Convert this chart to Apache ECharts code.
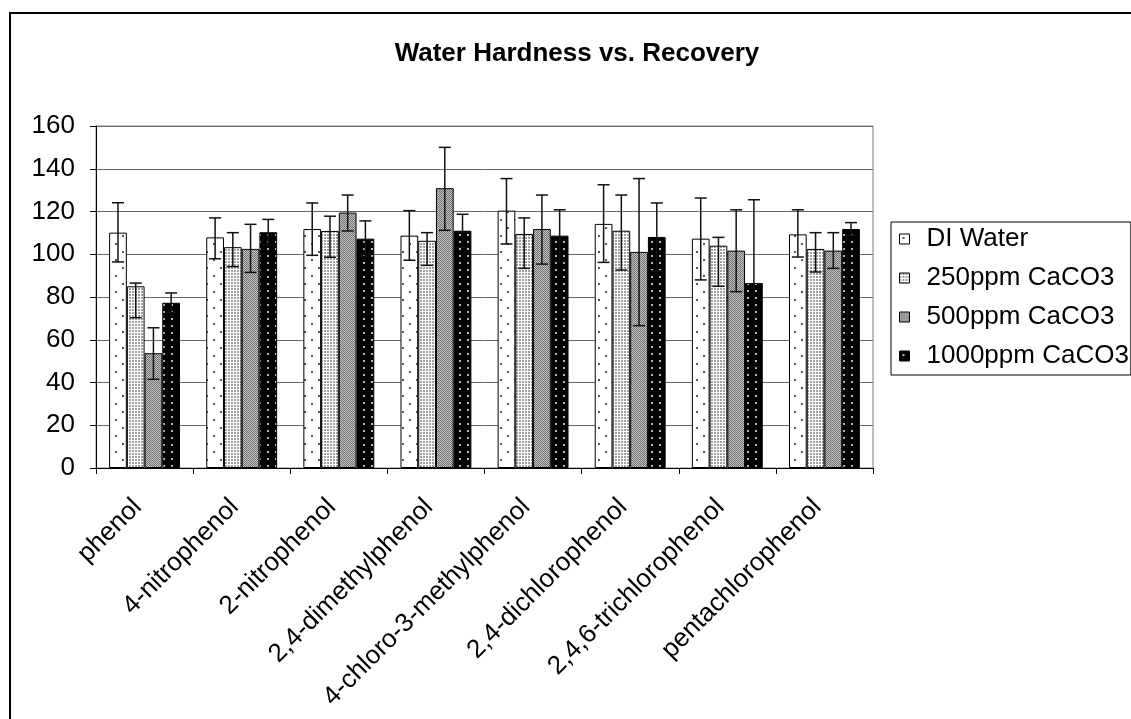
<!DOCTYPE html>
<html>
<head>
<meta charset="utf-8">
<script src="https://cdn.jsdelivr.net/npm/echarts@6/dist/echarts.min.js"></script>
<style>
html,body{margin:0;padding:0;background:#fff;}
#main{width:1131px;height:719px;}
</style>
</head>
<body>
<div id="main"></div>
<script>
// ---- data ----
const categories = ['phenol','4-nitrophenol','2-nitrophenol','2,4-dimethylphenol','4-chloro-3-methylphenol','2,4-dichlorophenol','2,4,6-trichlorophenol','pentachlorophenol'];
const seriesNames = ['DI Water','250ppm CaCO3','500ppm CaCO3','1000ppm CaCO3'];
const yTicks = [0,20,40,60,80,100,120,140,160];

const diWater   = [110.1, 107.9, 111.8, 108.7, 120.4, 114.2, 107.3, 109.3];
const diWaterHi = [124.1, 117.0, 124.0, 120.4, 135.4, 132.5, 126.3, 120.8];
const diWaterLo = [ 96.4,  97.9,  99.5,  97.2, 104.8,  96.2,  88.0,  98.7];

const ppm250   = [ 85.0, 103.3, 110.9, 106.3, 109.5, 111.0, 104.0, 102.5];
const ppm250Hi = [ 86.5, 110.1, 117.8, 110.1, 117.0, 127.7, 107.9, 110.1];
const ppm250Lo = [ 70.3,  94.2,  98.6,  94.8,  93.4,  92.6,  85.0,  91.7];

const ppm500   = [ 53.7, 102.5, 119.5, 130.9, 111.8, 101.1, 101.7, 101.7];
const ppm500Hi = [ 65.6, 114.0, 127.7, 150.0, 127.7, 135.4, 120.8, 110.1];
const ppm500Lo = [ 41.5,  91.5, 110.9, 111.2,  95.4,  66.6,  82.5,  93.4];

const ppm1000   = [ 77.3, 110.3, 107.3, 111.0, 108.7, 108.1,  86.5, 111.8];
const ppm1000Hi = [ 81.9, 116.3, 115.6, 118.7, 120.8, 124.0, 125.5, 114.8];
const ppm1000Lo = [ 72.7, 104.3,  99.0, 103.3,  96.6,  92.2,  47.5, 108.8];

// ---- patterns ----
function makePattern(w, h, draw) {
  const c = document.createElement('canvas');
  c.width = w; c.height = h;
  const ctx = c.getContext('2d');
  draw(ctx);
  return { image: c, repeat: 'repeat' };
}
const patDI = makePattern(14, 16, ctx => {
  ctx.fillStyle = '#fff'; ctx.fillRect(0,0,14,16);
  ctx.fillStyle = '#555';
  ctx.fillRect(3,3,2,2); ctx.fillRect(10,11,2,2);
});
const pat250 = makePattern(3, 3, ctx => {
  ctx.fillStyle = '#fff'; ctx.fillRect(0,0,3,3);
  ctx.fillStyle = '#a0a0a0'; ctx.fillRect(0,0,2,2);
});
const pat500 = makePattern(2, 2, ctx => {
  ctx.fillStyle = '#c4c4c4'; ctx.fillRect(0,0,2,2);
  ctx.fillStyle = '#707070'; ctx.fillRect(0,0,1,1); ctx.fillRect(1,1,1,1);
});
const pat1000 = makePattern(8, 7, ctx => {
  ctx.fillStyle = '#000'; ctx.fillRect(0,0,8,7);
  ctx.fillStyle = '#bbb'; ctx.fillRect(3,3,2,2);
});
const patterns = [patDI, pat250, pat500, pat1000];

const values = [diWater, ppm250, ppm500, ppm1000];
const highs  = [diWaterHi, ppm250Hi, ppm500Hi, ppm1000Hi];
const lows   = [diWaterLo, ppm250Lo, ppm500Lo, ppm1000Lo];

const FONT = 'Liberation Sans, Arial, sans-serif';
const GAP = 0.27;

const series = [];
seriesNames.forEach((name, s) => {
  series.push({
    name: name,
    type: 'bar',
    data: values[s],
    barGap: '0%',
    barCategoryGap: (GAP*100) + '%',
    itemStyle: { color: patterns[s], borderColor: '#000', borderWidth: 1 },
    emphasis: { disabled: true },
    z: 2
  });
});
seriesNames.forEach((name, s) => {
  series.push({
    type: 'custom',
    name: name + ' error',
    data: categories.map((c, i) => [i, lows[s][i], highs[s][i]]),
    z: 5,
    silent: true,
    renderItem: function (params, api) {
      const idx = api.value(0);
      const band = api.size([1, 0])[0];
      const bw = band * (1 - GAP) / 4;
      const cx = api.coord([idx, 0])[0] - 2 * bw + bw * (s + 0.5);
      const yLo = api.coord([idx, api.value(1)])[1];
      const yHi = api.coord([idx, api.value(2)])[1];
      const cap = 6;
      const st = { stroke: '#111', lineWidth: 1.5 };
      return {
        type: 'group',
        children: [
          { type: 'line', shape: { x1: cx, y1: yLo, x2: cx, y2: yHi }, style: st },
          { type: 'line', shape: { x1: cx - cap, y1: yHi, x2: cx + cap, y2: yHi }, style: st },
          { type: 'line', shape: { x1: cx - cap, y1: yLo, x2: cx + cap, y2: yLo }, style: st }
        ]
      };
    }
  });
});

const chart = echarts.init(document.getElementById('main'), null, { renderer: 'canvas' });
chart.setOption({
  animation: false,
  backgroundColor: '#fff',
  textStyle: { fontFamily: FONT },
  graphic: [
    { type: 'rect', shape: { x: 10, y: 13, width: 1300, height: 900 }, style: { fill: 'none', stroke: '#000', lineWidth: 2 }, z: 100 },
    { type: 'text', x: 577, y: 54, style: { text: 'Water Hardness vs. Recovery', font: 'bold 26px ' + FONT, fill: '#000', align: 'center', verticalAlign: 'middle' }, z: 100 }
  ],
  legend: {
    data: seriesNames,
    orient: 'vertical',
    left: 891,
    top: 222,
    padding: [4, 2, 6, 8],
    itemWidth: 10,
    itemHeight: 10,
    itemGap: 13,
    icon: 'rect',
    borderColor: '#000',
    borderWidth: 1,
    selectedMode: false,
    itemStyle: { borderColor: '#000', borderWidth: 1 },
    textStyle: { fontFamily: FONT, fontSize: 26, color: '#000', padding: [0, 0, 0, 12] }
  },
  grid: {
    left: 96, right: 258, top: 126, bottom: 251,
    show: true, borderColor: '#808080', borderWidth: 1,
    containLabel: false
  },
  xAxis: {
    type: 'category',
    data: categories,
    axisLine: { lineStyle: { color: '#000', width: 1 } },
    axisTick: { show: true, length: 6, lineStyle: { color: '#000' } },
    axisLabel: { rotate: 45, margin: 28, padding: [0, 10, 0, 0], fontFamily: FONT, fontSize: 26, color: '#000', interval: 0 }
  },
  yAxis: {
    type: 'value',
    min: 0, max: 160, interval: 20,
    axisLine: { show: true, lineStyle: { color: '#000', width: 1 } },
    axisTick: { show: true, length: 6, lineStyle: { color: '#000' } },
    splitLine: { show: true, lineStyle: { color: '#666', width: 1 } },
    axisLabel: {
      margin: 21, fontFamily: FONT, fontSize: 26, color: '#000',
      formatter: v => (yTicks.indexOf(v) >= 0 ? String(v) : '')
    }
  },
  series: series
});
</script>
</body>
</html>
